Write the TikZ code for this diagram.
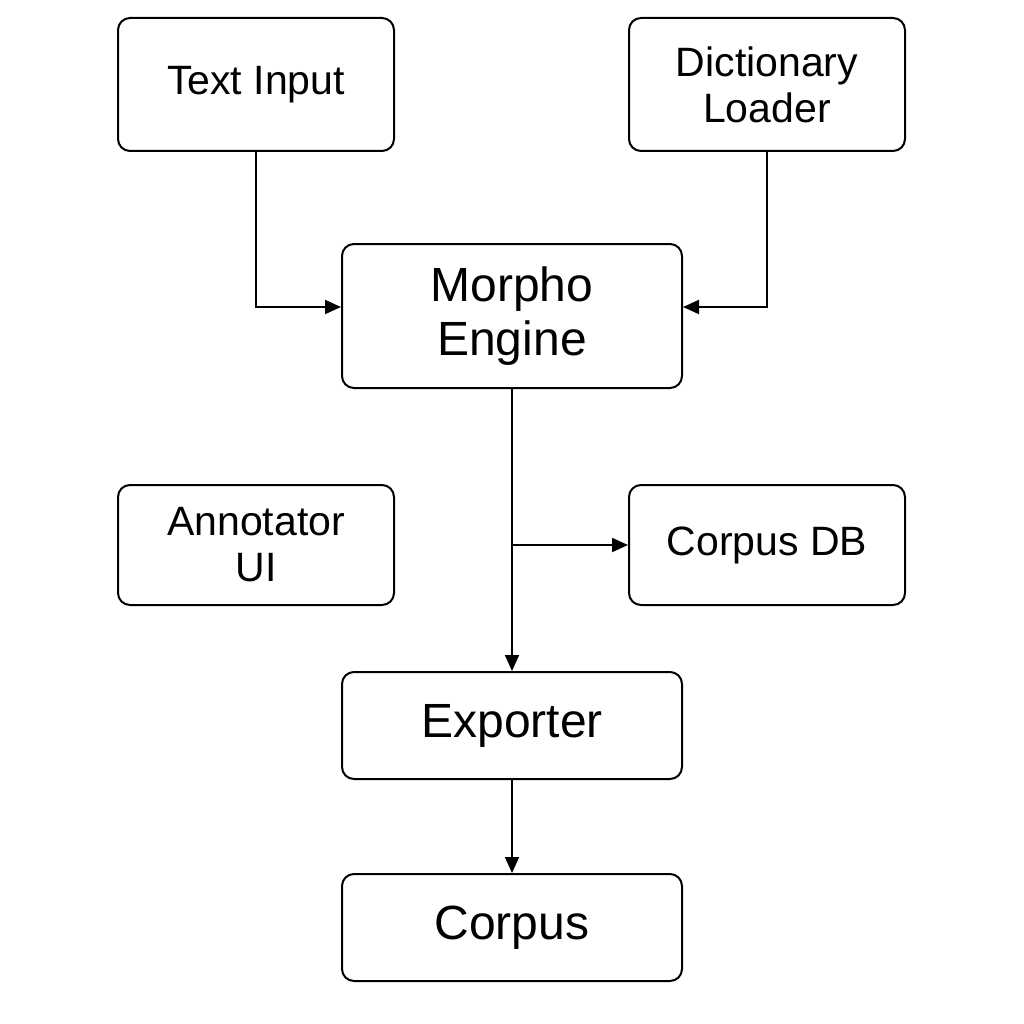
\documentclass[tikz,border=0pt]{standalone}
\usepackage{fontspec}
\setmainfont{Liberation Sans}
\usetikzlibrary{positioning, arrows.meta}

\begin{document}
\begin{tikzpicture}[
    x=1pt, y=1pt,
    node distance=100pt,
    box/.style={rectangle, draw, rounded corners=12pt, line width=2pt, align=center,
                minimum width=276pt, minimum height=133pt, inner sep=0pt,
                font=\fontsize{41}{46}\selectfont},
    bigbox/.style={box, minimum width=340pt, minimum height=107pt,
                font=\fontsize{48}{54}\selectfont},
    arrow/.style={-{Triangle[length=16pt, width=14pt]}, line width=1.9pt}
]
\useasboundingbox (0,0) rectangle (1024,-1024);

% Input nodes
\node[box] (TextInput) at (256,-84.5) {Text Input};
\node[box, right=233pt of TextInput] (Dict) {Dictionary\\Loader};

% Engine
\node[bigbox, minimum height=144pt] (Morpho) at (512,-316) {Morpho\\Engine};

% Side nodes
\node[box, minimum height=120pt, below=332pt of TextInput] (Annotator) {Annotator\\UI};
\node[box, minimum height=120pt, below=332pt of Dict] (CorpusDB) {Corpus DB};

% Output nodes
\node[bigbox, below=282pt of Morpho] (Exporter) {Exporter};
\node[bigbox, below=93pt of Exporter] (Corpus) {Corpus};

% Arrows
\draw[arrow] (TextInput.south) |- ([yshift=9pt]Morpho.west);
\draw[arrow] (Dict.south) |- ([yshift=9pt]Morpho.east);
\draw[arrow] (Morpho.south) -- (Exporter.north);
\coordinate (split) at (Morpho.south |- CorpusDB.west);
\draw[arrow] (split) -- (CorpusDB.west);
\draw[arrow] (Exporter.south) -- (Corpus.north);

\end{tikzpicture}
\end{document}
